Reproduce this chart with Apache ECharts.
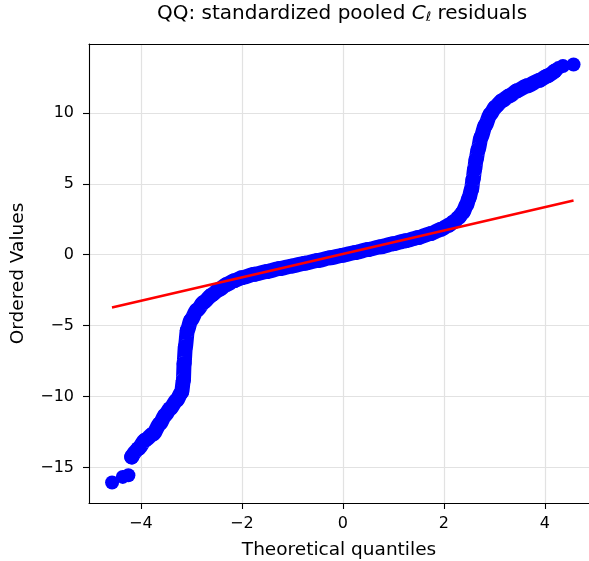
<!DOCTYPE html>
<html>
<head>
<meta charset="utf-8">
<script src="https://cdn.jsdelivr.net/npm/echarts@6/dist/echarts.min.js"></script>
<style>
  html, body { margin: 0; padding: 0; background: #ffffff; }
  #chart { width: 589px; height: 561px; }
</style>
</head>
<body>
<div id="chart"></div>
<script>
// Probability plot of standardized pooled C_l residuals against normal quantiles.

// Dense body of the ordered residuals (theoretical quantile, ordered value)
const bandX = [-4.18, -4.05, -3.915, -3.75, -3.62, -3.52, -3.42, -3.29, -3.19, -3.156,
  -3.142, -3.117, -3.077, -3.01, -2.89, -2.75, -2.6, -2.45, -2.3, -2.15,
  -2.0, -1.75, -1.5, -1.25, -1.0, -0.75, -0.5, -0.25, 0, 0.25,
  0.5, 0.75, 1.0, 1.25, 1.5, 1.75, 1.95, 2.1, 2.2, 2.3,
  2.38, 2.45, 2.5, 2.55, 2.58, 2.61, 2.64, 2.68, 2.74, 2.82,
  2.92, 3.02, 3.15, 3.3, 3.45, 3.65, 3.9, 4.05, 4.2];
const bandY = [-14.25, -13.67, -13.08, -12.61, -11.9, -11.32, -10.85, -10.26, -9.68, -8.85,
  -7.68, -6.5, -5.33, -4.63, -3.92, -3.35, -2.85, -2.45, -2.1, -1.84,
  -1.62, -1.38, -1.18, -0.98, -0.79, -0.6, -0.41, -0.22, -0.03, 0.16,
  0.36, 0.56, 0.77, 0.99, 1.22, 1.5, 1.8, 2.08, 2.32, 2.64,
  3.0, 3.5, 4.0, 4.6, 5.3, 6.0, 6.7, 7.4, 8.3, 9.1,
  9.9, 10.4, 10.85, 11.2, 11.55, 11.9, 12.3, 12.6, 12.95];

// Sparse extreme points at both ends
const tailX = [-4.568, -4.356, -4.245, 4.27, 4.36, 4.57];
const tailY = [-16.06, -15.66, -15.54, 13.15, 13.3, 13.4];

// Least-squares reference line
const fitX = [-4.57, 4.57];
const fitY = [-3.72, 3.82];

// Tick labels
const xTicks = [-4, -2, 0, 2, 4];
const yTicks = [-15, -10, -5, 0, 5, 10];

const FONT = 'DejaVu Sans';
const minus = v => String(v).replace('-', '\u2212');
const pairs = (xs, ys) => xs.map((x, i) => [x, ys[i]]);

const axisLineStyle = { color: '#000000', width: 1.1 };
const gridLineStyle = { color: '#e2e2e2', width: 1.2 };
const DOT = 15;

const chart = echarts.init(document.getElementById('chart'), null, { renderer: 'canvas' });

chart.setOption({
  animation: false,
  backgroundColor: '#ffffff',
  grid: { left: 89, top: 44, right: 0, height: 459, containLabel: false, outerBoundsMode: 'none' },
  graphic: [{
    type: 'text',
    x: 342,
    y: 14,
    style: {
      text: '{a|QQ: standardized pooled }{c|C}{s|\u2113}{a| residuals}',
      align: 'center',
      verticalAlign: 'middle',
      fill: '#000000',
      rich: {
        a: { fontFamily: FONT, fontSize: 20, lineHeight: 20, verticalAlign: 'middle', fill: '#000' },
        c: { fontFamily: FONT, fontSize: 20, lineHeight: 20, fontStyle: 'italic', verticalAlign: 'middle', fill: '#000' },
        s: { fontFamily: FONT, fontSize: 13, lineHeight: 14, fontStyle: 'italic', padding: [10, 0, 0, 0], verticalAlign: 'bottom', fill: '#000' }
      }
    }
  }],
  xAxis: [{
    type: 'value',
    min: -5.025,
    max: 4.876,
    position: 'bottom',
    name: 'Theoretical quantiles',
    nameLocation: 'middle',
    nameGap: 38,
    nameTextStyle: { fontFamily: FONT, fontSize: 18.5, color: '#000' },
    axisLine: { show: true, onZero: false, lineStyle: axisLineStyle },
    axisTick: { show: true, length: 6, customValues: xTicks, lineStyle: axisLineStyle },
    axisLabel: { customValues: xTicks, margin: 13, fontFamily: FONT, fontSize: 16, color: '#000', formatter: minus },
    splitLine: { show: true, lineStyle: gridLineStyle }
  }, {
    type: 'value',
    min: -5.025,
    max: 4.876,
    position: 'top',
    axisLine: { show: true, onZero: false, lineStyle: axisLineStyle },
    axisTick: { show: false },
    axisLabel: { show: false },
    splitLine: { show: false }
  }],
  yAxis: {
    type: 'value',
    min: -17.5,
    max: 14.85,
    name: 'Ordered Values',
    nameLocation: 'middle',
    nameGap: 61,
    nameTextStyle: { fontFamily: FONT, fontSize: 18.5, color: '#000' },
    axisLine: { show: true, onZero: false, lineStyle: axisLineStyle },
    axisTick: { show: true, length: 6, customValues: yTicks, lineStyle: axisLineStyle },
    axisLabel: { customValues: yTicks, margin: 15, fontFamily: FONT, fontSize: 16, color: '#000', formatter: minus },
    splitLine: { show: true, lineStyle: gridLineStyle }
  },
  series: [{
    name: 'ordered',
    type: 'line',
    data: pairs(bandX, bandY),
    smooth: 0.25,
    smoothMonotone: 'x',
    symbol: 'circle',
    symbolSize: DOT,
    showSymbol: true,
    itemStyle: { color: '#0000ff' },
    lineStyle: { color: '#0000ff', width: DOT, cap: 'round', join: 'round' },
    emphasis: { disabled: true },
    silent: true,
    z: 2
  }, {
    name: 'tails',
    type: 'scatter',
    data: pairs(tailX, tailY),
    symbol: 'circle',
    symbolSize: 14,
    itemStyle: { color: '#0000ff', opacity: 1 },
    emphasis: { disabled: true },
    silent: true,
    z: 2
  }, {
    name: 'fit',
    type: 'line',
    data: pairs(fitX, fitY),
    symbol: 'none',
    lineStyle: { color: '#ff0000', width: 2.6 },
    emphasis: { disabled: true },
    silent: true,
    z: 3
  }]
});
</script>
</body>
</html>
